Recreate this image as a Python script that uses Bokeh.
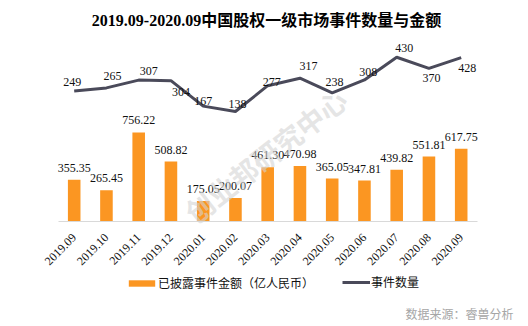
import math
from bokeh.plotting import figure
from bokeh.models import (ColumnDataSource, Range1d, Label, Legend, LegendItem, FixedTicker)
from bokeh.core.properties import value
from bokeh.embed import file_html
from bokeh.resources import INLINE

# ---- data ----
months = ["2019.09", "2019.10", "2019.11", "2019.12", "2020.01", "2020.02", "2020.03",
          "2020.04", "2020.05", "2020.06", "2020.07", "2020.08", "2020.09"]
amount = [355.35, 265.45, 756.22, 508.82, 175.05, 200.07, 461.30, 470.98, 365.05,
          347.81, 439.82, 551.81, 617.75]
count = [249, 265, 307, 304, 167, 138, 277, 317, 238, 308, 430, 370, 428]

title_text = "2019.09-2020.09中国股权一级市场事件数量与金额"
amount_name = "已披露事件金额（亿人民币）"
count_name = "事件数量"
source_text = "数据来源：睿兽分析"
watermark_text = "创业邦研究中心"

# label nudges (screen px) for the count labels, as in the reference
count_label_dx = [-2, 6, 10, 10, 0, 2, 4, 8.5, 2.3, 3.7, 7.5, 2.5, 6]
count_label_dy = [-8.7, -11.7, -8.6, 11.5, -5.6, -7.7, -3.7, -12, -10.7, -7.7, -9.4, 9.8, 10.6]

ORANGE = "#FB9622"
LINE = "#4A4A5A"
W, H = 528, 326

idx = list(range(len(months)))
src = ColumnDataSource(dict(
    i=idx, amount=amount, count=count,
    amount_lbl=[f"{v:.2f}" for v in amount],
    count_lbl=[str(v) for v in count],
    dx=count_label_dx, dy=count_label_dy,
))

# frame fills the whole canvas; scales chosen so the plot area matches the reference
p = figure(width=W, height=H, title=None, x_range=Range1d(-2.285, 14.087),
           y_range=Range1d(-892.1, 1877.7), output_backend="svg", toolbar_location=None,
           y_axis_location=None, min_border=0)
p.extra_y_ranges = {"count": Range1d(-1017.7, 734.9)}
p.outline_line_color = None
p.xgrid.visible = False
p.ygrid.visible = False
p.background_fill_color = "white"
p.border_fill_color = "white"

bars = p.vbar(x="i", top="amount", bottom=0, width=0.39, source=src,
              fill_color=ORANGE, line_color=None)
ln = p.line(x="i", y="count", source=src, line_color=LINE, line_width=3,
            y_range_name="count")

p.text(x="i", y="amount", text="amount_lbl", source=src, text_align="center",
       text_baseline="middle", y_offset=-12, text_font=value("Liberation Serif"),
       text_font_size="12px", text_color="#111111")
p.text(x="i", y="count", text="count_lbl", source=src, text_align="center",
       text_baseline="middle", x_offset="dx", y_offset="dy", y_range_name="count",
       text_font=value("Liberation Serif"), text_font_size="12px", text_color="#111111")

ax = p.xaxis[0]
ax.fixed_location = 0
ax.bounds = (-0.5, len(months) - 0.5)
ax.ticker = FixedTicker(ticks=idx)
ax.major_label_overrides = {i: m for i, m in zip(idx, months)}
ax.axis_line_color = "#D9D9D9"
ax.axis_line_width = 1
ax.major_tick_line_color = None
ax.minor_tick_line_color = None
ax.major_label_orientation = math.pi / 4
ax.major_label_text_font = "Liberation Serif"
ax.major_label_text_font_size = "12px"
ax.major_label_text_color = "#111111"
ax.major_label_standoff = 8

# watermark
p.add_layout(Label(x=265, y=171, x_units="screen", y_units="screen", text=watermark_text,
                   angle=math.radians(38), text_align="center", text_baseline="middle",
                   text_font="Noto Sans CJK SC", text_font_size="28px", text_font_style="bold",
                   text_color="#D4D4D4", text_alpha=0.6))

# title
p.add_layout(Label(x=266, y=306, x_units="screen", y_units="screen", text=title_text,
                   text_align="center", text_baseline="middle",
                   text_font="'Liberation Serif', 'Noto Sans CJK SC', serif",
                   text_font_size="16px", text_font_style="bold", text_color="#000000"))

# source note
p.add_layout(Label(x=513, y=12.7, x_units="screen", y_units="screen", text=source_text,
                   text_align="right", text_baseline="middle",
                   text_font="Noto Sans CJK SC", text_font_size="12px", text_color="#A6A6A6"))

def make_legend(item, loc, gw, gh, standoff):
    lg = Legend(items=[item], location=loc, orientation="horizontal",
                glyph_width=gw, glyph_height=gh, label_height=gh, label_standoff=standoff,
                padding=0, margin=0, spacing=0, border_line_color=None,
                background_fill_alpha=0, label_text_font="Noto Sans CJK SC",
                label_text_font_size="12px", label_text_color="#111111")
    p.add_layout(lg)

make_legend(LegendItem(label=amount_name, renderers=[bars]), (125, 35), 33, 8, 0)
make_legend(LegendItem(label=count_name, renderers=[ln]), (342, 36), 28, 6, 1)

open("out.html", "w").write(file_html(p, INLINE))
